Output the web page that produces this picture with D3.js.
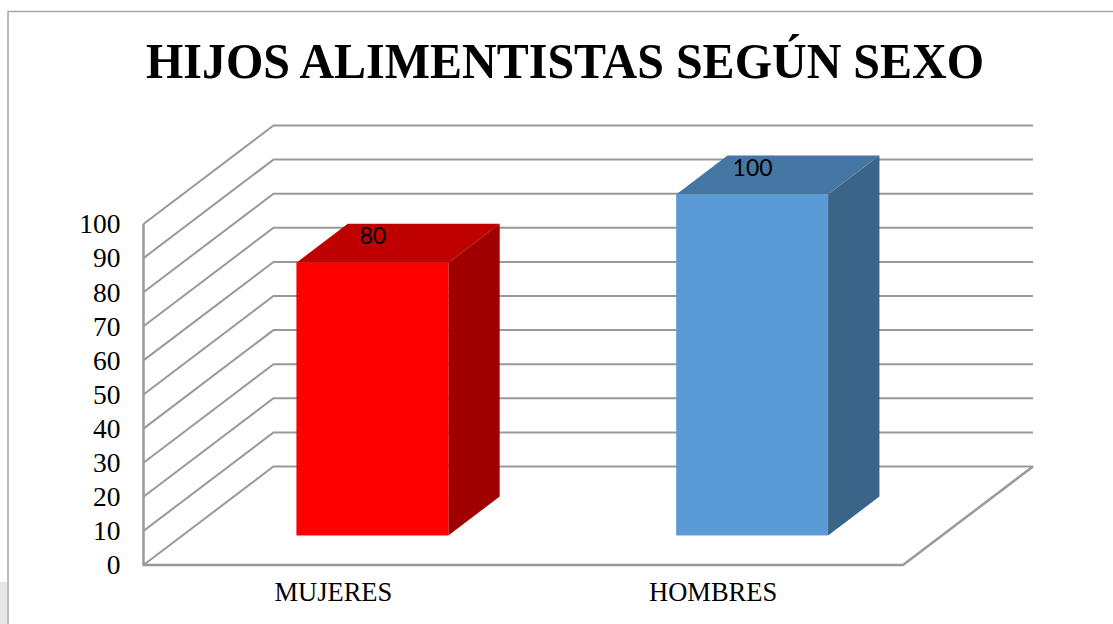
<!DOCTYPE html>
<html>
<head>
<meta charset="utf-8">
<script src="https://d3js.org/d3.v7.min.js"></script>
<style>
html, body { margin: 0; padding: 0; background: #fff; overflow: hidden; }
svg { display: block; }
</style>
</head>
<body>
<div id="vis"></div>
<script>
var categories = ["MUJERES", "HOMBRES"];
var values = [80, 100];
var yTicks = [0, 10, 20, 30, 40, 50, 60, 70, 80, 90, 100];
var titleText = "HIJOS ALIMENTISTAS SEGÚN SEXO";

var frontColors = ["#ff0000", "#5b9bd5"];
var topColors = ["#bf0000", "#4676a3"];
var sideColors = ["#a00000", "#3a6488"];

var width = 1113, height = 624;
var gridColor = "#999999";

// front plane of the 3d box
var x = d3.scaleBand().domain(categories).range([143.5, 903]).paddingInner(0.6).paddingOuter(0.3);
var y = d3.scaleLinear().domain([0, 100]).range([565, 224]);

// depth goes up and to the right, 0 = front, 1 = back wall
var depthX = d3.scaleLinear().domain([0, 1]).range([0, 130]);
var depthY = d3.scaleLinear().domain([0, 1]).range([0, -98.5]);
var barDepth = [0.3, 0.695];

var svg = d3.select("#vis").append("svg")
    .attr("width", width)
    .attr("height", height);

svg.append("rect")
    .attr("x", 0)
    .attr("y", 582)
    .attr("width", 7)
    .attr("height", 42)
    .style("fill", "#e6e6e6");

// chart frame, runs off the picture at right and bottom
svg.append("path")
    .attr("d", "M8," + height + "V11.5H" + width)
    .style("fill", "none")
    .style("stroke", "#a6a6a6")
    .style("stroke-width", 1.5);

svg.append("text")
    .attr("x", 565)
    .attr("y", 78)
    .style("text-anchor", "middle")
    .style("font-family", "'Liberation Serif'")
    .style("font-weight", "bold")
    .style("font-size", "50px")
    .attr("textLength", 838)
    .attr("lengthAdjust", "spacingAndGlyphs")
    .text(titleText);

function linePoints(v) {
    var x0 = x.range()[0], x1 = x.range()[1];
    return [
        [x0, y(v)],
        [x0 + depthX(1), y(v) + depthY(1)],
        [x1 + depthX(1), y(v) + depthY(1)]
    ];
}

var line = d3.line();

svg.selectAll(".grid")
    .data(yTicks)
    .enter().append("path")
    .attr("class", "grid")
    .attr("d", function(d) { return line(linePoints(d)); })
    .style("fill", "none")
    .style("stroke", gridColor)
    .style("stroke-width", 2);

// left wall edge, floor front and right side
var x0 = x.range()[0], x1 = x.range()[1];
svg.append("path")
    .attr("d", line([
        [x0, y(100)],
        [x0, y(0)],
        [x1, y(0)],
        [x1 + depthX(1), y(0) + depthY(1)]
    ]))
    .style("fill", "none")
    .style("stroke", gridColor)
    .style("stroke-width", 2.5);

var bars = svg.selectAll(".bar")
    .data(categories)
    .enter().append("g")
    .attr("class", "bar");

function barCorners(i) {
    var left = x(categories[i]) + depthX(barDepth[0]);
    var right = left + x.bandwidth();
    var bottom = y(0) + depthY(barDepth[0]);
    var top = y(values[i]) + depthY(barDepth[0]);
    var dx = depthX(barDepth[1]) - depthX(barDepth[0]);
    var dy = depthY(barDepth[1]) - depthY(barDepth[0]);
    return { left: left, right: right, bottom: bottom, top: top, dx: dx, dy: dy };
}

// side face
bars.append("path")
    .attr("d", function(d, i) {
        var c = barCorners(i);
        return line([[c.right, c.top], [c.right + c.dx, c.top + c.dy], [c.right + c.dx, c.bottom + c.dy], [c.right, c.bottom]]) + "Z";
    })
    .style("fill", function(d, i) { return sideColors[i]; });

// top face
bars.append("path")
    .attr("d", function(d, i) {
        var c = barCorners(i);
        return line([[c.left, c.top], [c.left + c.dx, c.top + c.dy], [c.right + c.dx, c.top + c.dy], [c.right, c.top]]) + "Z";
    })
    .style("fill", function(d, i) { return topColors[i]; });

// front face
bars.append("rect")
    .attr("x", function(d, i) { return barCorners(i).left; })
    .attr("y", function(d, i) { return barCorners(i).top; })
    .attr("width", x.bandwidth())
    .attr("height", function(d, i) { var c = barCorners(i); return c.bottom - c.top; })
    .style("fill", function(d, i) { return frontColors[i]; });

bars.append("text")
    .attr("x", function(d, i) { return barCorners(i).left + x.bandwidth() / 2 + 0.5; })
    .attr("y", function(d, i) { return barCorners(i).top + barCorners(i).dy + 20; })
    .style("text-anchor", "middle")
    .style("font-family", "Lato")
    .style("font-size", "23px")
    .style("fill", "#000")
    .text(function(d, i) { return values[i]; });

var yAxis = svg.append("g")
    .attr("transform", "translate(143.5,0)")
    .call(d3.axisLeft(y).tickValues(yTicks).tickSize(0).tickPadding(23));
yAxis.select(".domain").remove();
yAxis.selectAll("text")
    .style("font-family", "'Liberation Serif'")
    .style("font-size", "27.5px")
    .style("fill", "#000");

var xAxis = svg.append("g")
    .attr("transform", "translate(0," + y(0) + ")")
    .call(d3.axisBottom(x).tickSize(0).tickPadding(17));
xAxis.select(".domain").remove();
xAxis.selectAll("text")
    .style("font-family", "'Liberation Serif'")
    .style("font-size", "26.5px")
    .style("fill", "#000");
</script>
</body>
</html>
